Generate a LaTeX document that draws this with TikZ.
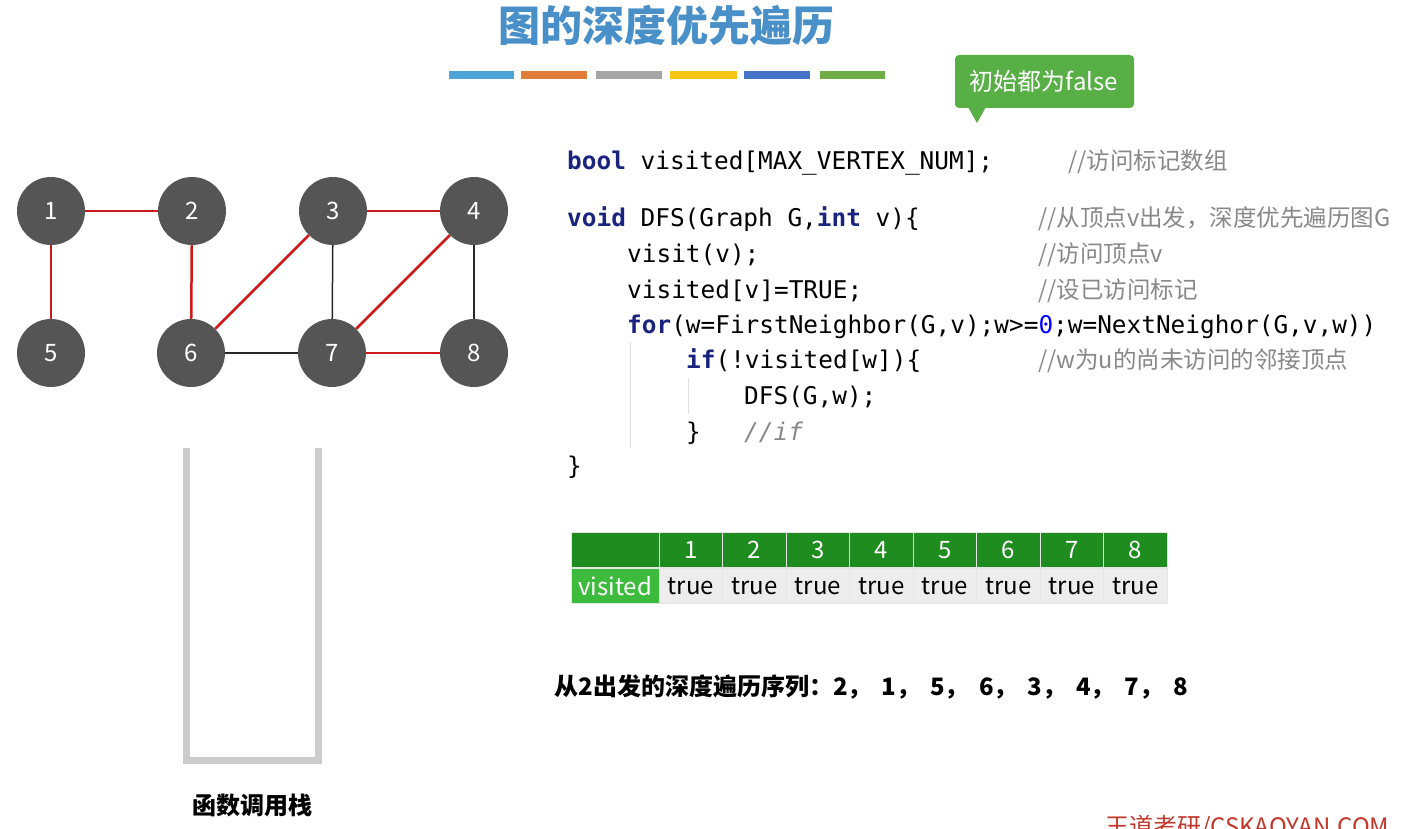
\documentclass[tikz,border=0pt]{standalone}
\usepackage{fontspec}
\setmainfont{Noto Sans CJK SC}
\setmonofont{DejaVu Sans Mono}
\definecolor{kw}{HTML}{1A237E}
\definecolor{cm}{HTML}{888888}
\definecolor{vx}{HTML}{555555}
\definecolor{hd}{HTML}{1E8C1E}
\definecolor{vg}{HTML}{3DBB3D}
\newcommand{\fs}[1]{\fontsize{#1}{#1}\selectfont}
\newcommand{\kwd}[1]{\textcolor{kw}{\textbf{#1}}}
\newcommand{\cs}{，\hspace{10pt}}
\tikzset{
 vert/.style={circle,fill=vx,minimum size=68pt,inner sep=0pt,text=white,font=\fs{24}},
 red/.style={draw={rgb,255:red,204;green,26;blue,26},line width=2.5pt},
 blk/.style={draw=black!85,line width=1.5pt},
 code/.style={anchor=base west,inner sep=0pt,font=\ttfamily\fs{24.4}},
 cmt/.style={anchor=base west,inner sep=0pt,text=cm,font=\fs{23.5}},
 cell/.style={draw=white!80!gray,minimum height=35pt,inner sep=0pt,font=\fs{24}},
}
\begin{document}
\begin{tikzpicture}[x=1pt,y=-1pt]
\useasboundingbox (0,0) rectangle (1424,829);
\fill[white] (0,0) rectangle (1424,829);
% title
\node[text={rgb,255:red,74;green,144;blue,200},font=\bfseries\fs{42}] (title) at (666,26) {图的深度优先遍历};
\foreach \a/\b/\c in {449/514/4EA3D8,521/587/E07B39,596/662/A5A5A5,670/737/F5C518,744/810/4472C4,820/885/70AD47}{
  \definecolor{barc}{HTML}{\c}
  \fill[barc] (\a,71) rectangle (\b,79);}
% graph
\node[vert] (n1) at (51,211) {1};
\node[vert] (n2) at (192,211) {2};
\node[vert] (n3) at (333,211) {3};
\node[vert] (n4) at (474,211) {4};
\node[vert] (n5) at (51,353) {5};
\node[vert] (n6) at (191,353) {6};
\node[vert] (n7) at (332,353) {7};
\node[vert] (n8) at (474,353) {8};
\draw[red] (n1)--(n2); \draw[red] (n1)--(n5); \draw[red] (n2)--(n6);
\draw[red] (n6)--(n3); \draw[red] (n3)--(n4); \draw[red] (n4)--(n7); \draw[red] (n7)--(n8);
\draw[blk] (n3)--(n7); \draw[blk] (n4)--(n8); \draw[blk] (n6)--(n7);
% stack
\draw[line width=7pt,draw=black!20] (186,448)--(186,760)--(318,760)--(318,448);
\node[font=\bfseries\fs{24}] (stk) at (252,805) {函数调用栈};
% callout
\fill[fill={rgb,255:red,88;green,175;blue,70},rounded corners=4pt] (955,55) rectangle (1134,108);
\fill[fill={rgb,255:red,88;green,175;blue,70}] (968,107)--(986,107)--(977,123)--cycle;
\node[text=white,font=\fs{24}] (call) at (1044,81) {初始都为false};
% code
\node[code] (c1) at (567,170) {\kwd{bool} visited[MAX\_VERTEX\_NUM];};
\node[cmt] (m1) at (1068,170) {//访问标记数组};
\node[code] (c2) at (567,226) {\kwd{void} DFS(Graph G,\kwd{int} v)\{};
\node[cmt] (m2) at (1038,226) {//从顶点\textit{v}出发，深度优先遍历图\textit{G}};
\node[code] (c3) at (627,262) {visit(v);};
\node[cmt] (m3) at (1038,262) {//访问顶点\textit{v}};
\node[code] (c4) at (627,298) {visited[v]=TRUE;};
\node[cmt] (m4) at (1038,298) {//设已访问标记};
\node[code] (c5) at (627,333) {\kwd{for}(w=FirstNeighbor(G,v);w>=\textcolor{blue}{0};w=NextNeighor(G,v,w))};
\node[code] (c6) at (686,368) {\kwd{if}(!visited[w])\{};
\node[cmt] (m6) at (1038,368) {//\textit{w}为\textit{u}的尚未访问的邻接顶点};
\node[code] (c7) at (744,404) {DFS(G,w);};
\node[code] (c8) at (686,440) {\}};
\node[code,text=cm] (m8) at (744,440) {\textit{//if}};
\node[code] (c9) at (567,474) {\}};
\draw[black!12,line width=1pt] (630,342)--(630,448);
\draw[black!12,line width=1pt] (688,378)--(688,414);
% table
\node[cell,fill=hd,minimum width=88pt] (h0) at (615,550) {};
\node[cell,fill=vg,minimum width=88pt,text=white] (v0) at (615,586) {visited};
\foreach \i in {1,...,8}{
  \pgfmathsetmacro{\cx}{659+63.5*(\i-0.5)}
  \node[cell,fill=hd,minimum width=63.5pt,text=white] (h\i) at (\cx,550) {\i};
  \node[cell,fill=black!7,minimum width=63.5pt] (v\i) at (\cx,586) {true};
}
% sequence
\node[anchor=west,font=\bfseries\fs{24}] (seq) at (551,687) {从2出发的深度遍历序列：2\cs 1\cs 5\cs 6\cs 3\cs 4\cs 7\cs 8};
% watermark
\node[anchor=west,text={rgb,255:red,192;green,57;blue,43},font=\fs{24}] (wm) at (1102,828) {王道考研/CSKAOYAN.COM};
\end{tikzpicture}
\end{document}
